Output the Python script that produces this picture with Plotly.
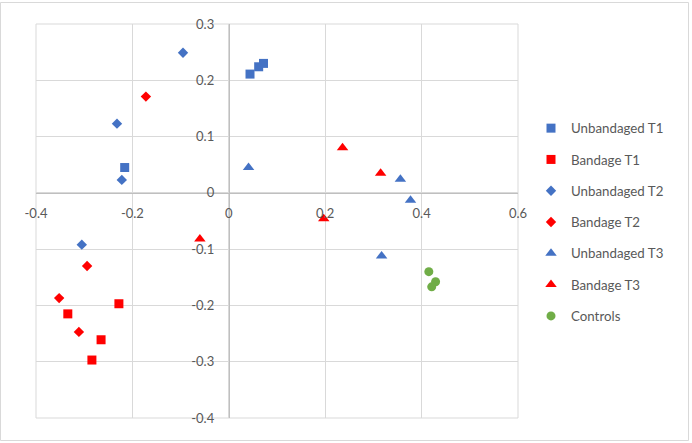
import plotly.graph_objects as go

# ---- data ----
ub_t1_x = [0.044, 0.062, 0.072, -0.216]
ub_t1_y = [0.211, 0.224, 0.230, 0.045]
b_t1_x = [-0.228, -0.334, -0.265, -0.284]
b_t1_y = [-0.197, -0.215, -0.261, -0.297]
ub_t2_x = [-0.095, -0.232, -0.222, -0.305]
ub_t2_y = [0.249, 0.123, 0.023, -0.092]
b_t2_x = [-0.172, -0.294, -0.352, -0.311]
b_t2_y = [0.171, -0.130, -0.187, -0.247]
ub_t3_x = [0.041, 0.356, 0.377, 0.317]
ub_t3_y = [0.045, 0.024, -0.013, -0.112]
b_t3_x = [0.236, 0.315, 0.197, -0.060]
b_t3_y = [0.080, 0.035, -0.046, -0.082]
ctrl_x = [0.415, 0.429, 0.421]
ctrl_y = [-0.140, -0.158, -0.167]

x_ticks = [-0.4, -0.2, 0, 0.2, 0.4, 0.6]
x_tick_labels = ["-0.4", "-0.2", "0", "0.2", "0.4", "0.6"]
y_ticks = [-0.4, -0.3, -0.2, -0.1, 0, 0.1, 0.2, 0.3]
y_tick_labels = ["-0.4", "-0.3", "-0.2", "-0.1", "0", "0.1", "0.2", "0.3"]

BLUE = "#4472C4"
RED = "#FF0000"
GREEN = "#70AD47"

series = [
    ("Unbandaged T1", ub_t1_x, ub_t1_y, "square", BLUE, 9),
    ("Bandage T1", b_t1_x, b_t1_y, "square", RED, 9),
    ("Unbandaged T2", ub_t2_x, ub_t2_y, "diamond", BLUE, 8),
    ("Bandage T2", b_t2_x, b_t2_y, "diamond", RED, 8),
    ("Unbandaged T3", ub_t3_x, ub_t3_y, "triangle-up", BLUE, 10),
    ("Bandage T3", b_t3_x, b_t3_y, "triangle-up", RED, 10),
    ("Controls", ctrl_x, ctrl_y, "circle", GREEN, 9),
]

fig = go.Figure()
for i, (name, xs, ys, sym, col, sz) in enumerate(series):
    fig.add_trace(go.Scatter(
        x=xs, y=ys, mode="markers", name=name, legendgroup="g%d" % i,
        marker=dict(symbol=sym, color=col, size=sz, line=dict(width=0)),
    ))

xr = [-0.4, 0.6]
yr = [-0.4, 0.3]
L, R, T, B = 36, 174, 24, 25
W, H = 692, 443
pw = W - L - R
ph = H - T - B

font = dict(family="Lato, 'Open Sans', sans-serif", size=13, color="#595959")

fig.update_layout(
    width=W, height=H,
    margin=dict(l=L, r=R, t=T, b=B, pad=0),
    paper_bgcolor="white", plot_bgcolor="white",
    font=font,
    showlegend=True,
    legend=dict(x=(531 - L) / pw, y=1 - (113 - T) / ph, xanchor="left", yanchor="top",
                font=dict(family="Lato, 'Open Sans', sans-serif", size=13.3, color="#595959"),
                tracegroupgap=11, itemwidth=30, bgcolor="rgba(0,0,0,0)"),
    xaxis=dict(range=xr, tickvals=x_ticks, ticktext=x_tick_labels,
               showgrid=True, gridcolor="#D9D9D9", gridwidth=1,
               zeroline=False, showline=True, linecolor="#BFBFBF", linewidth=1,
               anchor="free", position=(0 - yr[0]) / (yr[1] - yr[0]),
               ticks="", ticklabelstandoff=9, tickfont=font),
    yaxis=dict(range=yr, tickvals=y_ticks, ticktext=y_tick_labels,
               showgrid=True, gridcolor="#D9D9D9", gridwidth=1,
               zeroline=False, showline=True, linecolor="#BFBFBF", linewidth=1,
               anchor="free", position=(0 - xr[0]) / (xr[1] - xr[0]),
               ticks="", ticklabelstandoff=12, tickfont=font),
)

# plot-area frame
fig.add_shape(type="rect", xref="paper", yref="paper", x0=0, x1=1, y0=0, y1=1,
              line=dict(color="#D9D9D9", width=1), layer="below")
# outer chart frame
fig.add_shape(type="rect", xref="paper", yref="paper",
              x0=(0.5 - L) / pw, x1=(688.5 - L) / pw,
              y0=1 - (440.5 - T) / ph, y1=1 - (2.5 - T) / ph,
              line=dict(color="#D9D9D9", width=1), layer="below")

fig.write_html("out.html", config={"displayModeBar": False},
               post_script="document.body.style.margin='0';document.body.style.padding='0';")
